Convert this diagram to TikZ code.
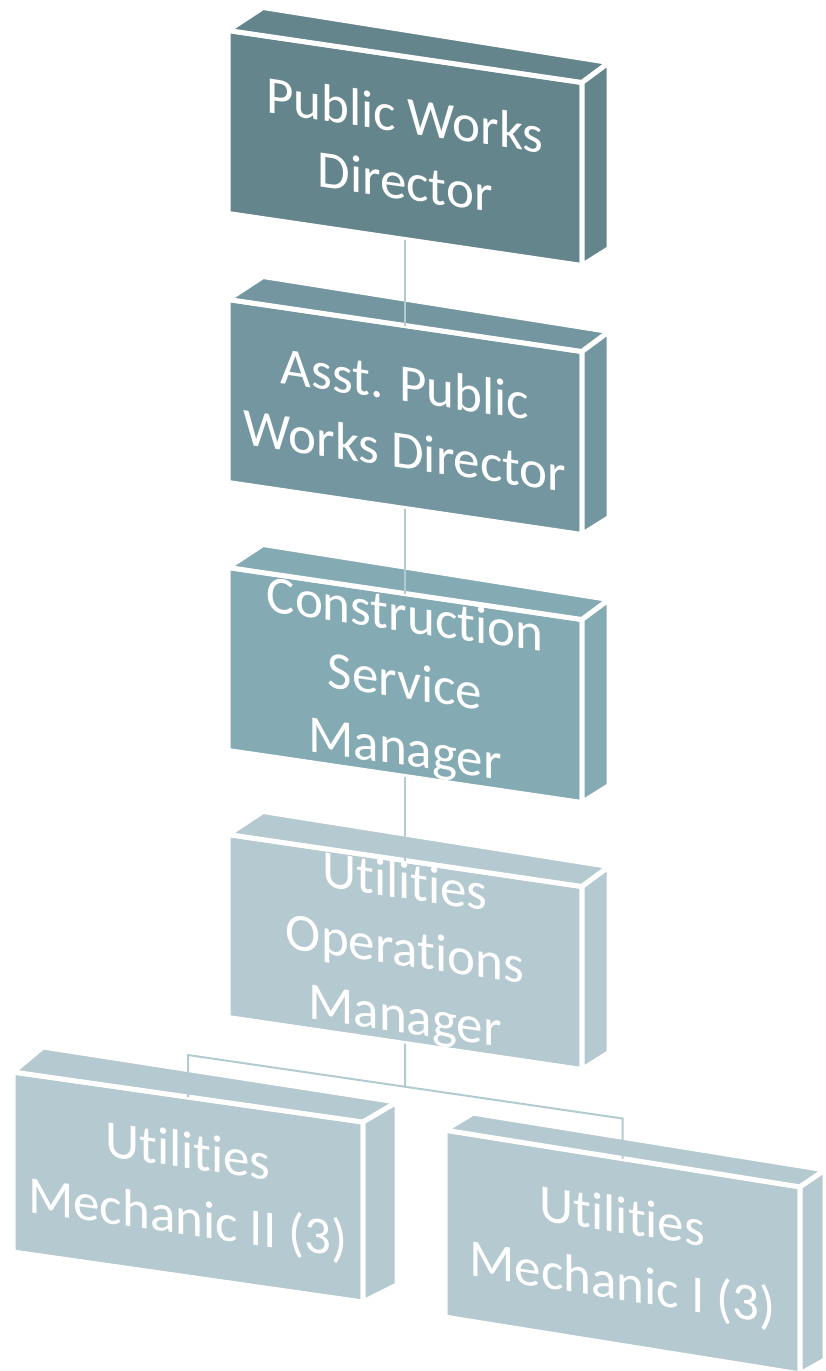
\documentclass[tikz,border=0pt]{standalone}
\usepackage{fontspec}
\setmainfont[RawFeature={-liga;-clig;-dlig;-calt}]{Carlito}
\usetikzlibrary{calc}
\definecolor{tierA}{HTML}{65858D}
\definecolor{tierB}{HTML}{7396A0}
\definecolor{tierC}{HTML}{84AAB4}
\definecolor{tierD}{HTML}{B4C9D0}
\definecolor{linkline}{HTML}{B2CBD1}
\tikzset{
	front/.style={rectangle,fill=#1,draw=white,line width=5pt,outer sep=0pt,inner sep=0pt,
		minimum width=354pt,minimum height=183pt,text=white,align=center,
		font=\fontsize{53}{67}\selectfont},
	tilt/.style={yslant=-#1},
	face/.style={fill=#1,draw=white,line width=5pt,line join=round},
	link/.style={draw=linkline,line width=2pt}
}
% top and right side of a block
\newcommand{\blockfaces}[4]{%
	\path[face=#2] (#1.north west) -- ++(#3) -- ($(#1.north east)+(#4)$) -- (#1.north east) -- cycle;
	\path[face=#2] (#1.north east) -- ++(#4) -- ($(#1.south east)+(#4)+(0,-3)$) -- (#1.south east) -- cycle;
}

\begin{document}
\begin{tikzpicture}[x=1pt,y=1pt]
	\useasboundingbox (0,0) rectangle (825,-1371);
	\node[front=tierA,tilt=0.147] (pwd) at (405,-148) {Public Works\\Director};
	\blockfaces{pwd}{tierA}{35,23}{27,20}
	\node[front=tierB,tilt=0.147] (apwd) at (405,-417) {Asst. Public\\Works Director};
	\blockfaces{apwd}{tierB}{35,23}{27,20}
	\node[front=tierC,tilt=0.147] (csm) at (405,-685) {Construction\\Service\\Manager};
	\blockfaces{csm}{tierC}{35,23}{27,20}
	\node[front=tierD,tilt=0.147] (uom) at (405,-952) {Utilities\\Operations\\Manager};
	\blockfaces{uom}{tierD}{35,23}{27,20}
	\node[front=tierD,tilt=0.143,minimum width=350pt,minimum height=180pt] (mech2) at (188,-1187) {Utilities\\Mechanic II (3)};
	\blockfaces{mech2}{tierD}{30,25}{34,20}
	\node[front=tierD,tilt=0.16,minimum width=355pt,minimum height=187pt] (mech1) at (622.5,-1252) {Utilities\\Mechanic I (3)};
	\blockfaces{mech1}{tierD}{28,17}{25,17}
	% reporting lines
	\draw[link] (pwd.south) -- (apwd.north);
	\draw[link] (apwd.south) -- (csm.north);
	\draw[link] (csm.south) -- (uom.north);
	\draw[link] (mech2.north) -- ++(0,42) coordinate (busl) -- ($(mech1.north)+(0,40)$) coordinate (busr) -- (mech1.north);
	\draw[link] (uom.south) -- ($(busl)!0.5!(busr)$);
\end{tikzpicture}
\end{document}
